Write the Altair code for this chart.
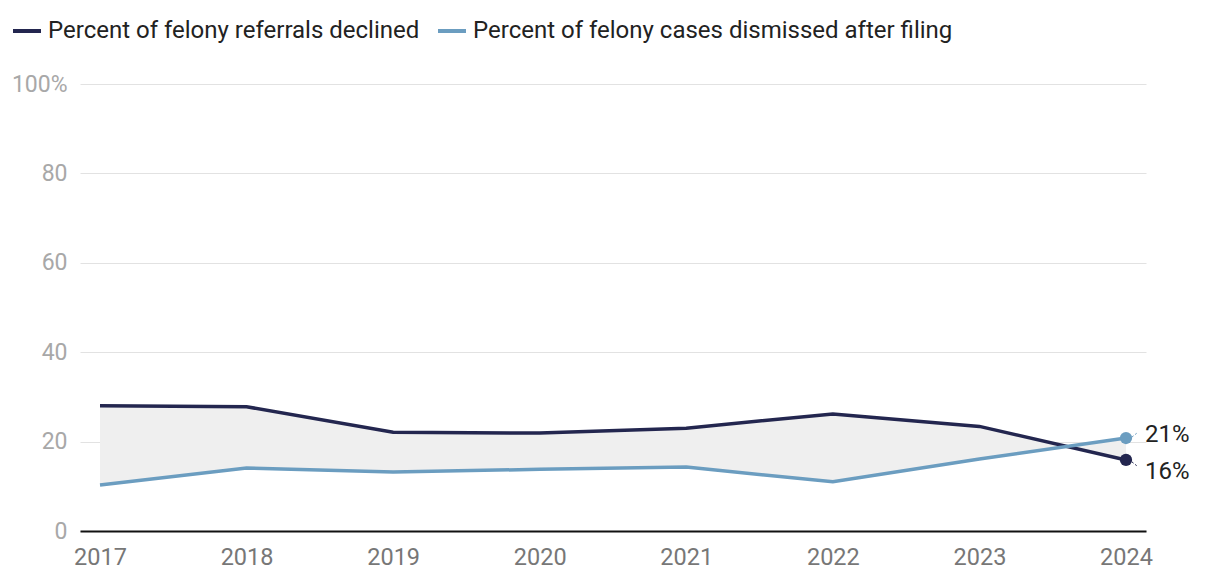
import altair as alt
import pandas as pd

years = [2017, 2018, 2019, 2020, 2021, 2022, 2023, 2024]
declined = [28.0, 27.8, 22.1, 21.9, 23.0, 26.2, 23.4, 15.9]
dismissed = [10.3, 14.1, 13.2, 13.8, 14.3, 11.0, 16.1, 20.8]
series_names = ["Percent of felony referrals declined",
                "Percent of felony cases dismissed after filing"]
series_colors = ["#23264f", "#6b9dc0"]
y_ticks = [0, 20, 40, 60, 80, 100]

FONT = "Roboto"

wide = pd.DataFrame({"year": years, "declined": declined, "dismissed": dismissed})
long = pd.concat([
    pd.DataFrame({"year": years, "value": declined, "series": series_names[0]}),
    pd.DataFrame({"year": years, "value": dismissed, "series": series_names[1]}),
])
last = long[long["year"] == years[-1]].copy()
last["label"] = last["value"].round().astype(int).astype(str) + "%"

xscale = alt.Scale(domain=[years[0], years[-1]], nice=False, padding=20)
yscale = alt.Scale(domain=[0, 100], nice=False)
color = alt.Color("series:N", scale=alt.Scale(domain=series_names, range=series_colors),
                  legend=alt.Legend(orient="none", legendX=-69, legendY=-69, direction="horizontal",
                                    title=None, symbolType="stroke", symbolSize=784,
                                    symbolStrokeWidth=4, labelFontSize=24, labelFont=FONT,
                                    labelColor="#222222", labelOffset=5, columnPadding=10,
                                    labelLimit=0))

x_enc = alt.X("year:Q", scale=xscale,
              axis=alt.Axis(title=None, values=years, format="d", grid=False, ticks=False,
                            domain=True, domainColor="#111111", domainWidth=2,
                            labelFontSize=23.5, labelFont=FONT, labelColor="#777777",
                            labelPadding=14, labelFlush=False))

area = alt.Chart(wide).mark_area(color="#efefef", opacity=1).encode(
    x=x_enc,
    y=alt.Y("declined:Q", scale=yscale,
            axis=alt.Axis(title=None, values=y_ticks, grid=True, gridColor="#e2e2e2",
                          ticks=False, domain=False, labelFontSize=23, labelFont=FONT,
                          labelColor="#a8a8a8", labelPadding=13,
                          labelExpr="datum.value == 100 ? '100%' : datum.label")),
    y2="dismissed:Q",
)

lines = alt.Chart(long).mark_line(strokeWidth=3.5).encode(
    x=alt.X("year:Q", scale=xscale),
    y=alt.Y("value:Q", scale=yscale),
    color=color,
)

points = alt.Chart(last).mark_circle(size=150, opacity=1).encode(
    x=alt.X("year:Q", scale=xscale),
    y=alt.Y("value:Q", scale=yscale),
    color=alt.Color("series:N", scale=alt.Scale(domain=series_names, range=series_colors), legend=None),
)

top_last = last[last["series"] == series_names[1]]
bot_last = last[last["series"] == series_names[0]]

top_text = alt.Chart(top_last).mark_text(align="left", baseline="middle", dx=19, dy=-3,
                                         fontSize=24, font=FONT, color="#222222").encode(
    x=alt.X("year:Q", scale=xscale), y=alt.Y("value:Q", scale=yscale), text="label:N")
bot_text = alt.Chart(bot_last).mark_text(align="left", baseline="middle", dx=19, dy=12,
                                         fontSize=24, font=FONT, color="#222222").encode(
    x=alt.X("year:Q", scale=xscale), y=alt.Y("value:Q", scale=yscale), text="label:N")

top_conn = alt.Chart(top_last).mark_rule(xOffset=6, x2Offset=11, yOffset=-1, y2Offset=-5,
                                         strokeWidth=1, strokeDash=[2, 2], color=series_colors[1]).encode(
    x=alt.X("year:Q", scale=xscale), x2="year:Q",
    y=alt.Y("value:Q", scale=yscale), y2="value:Q")
bot_conn = alt.Chart(bot_last).mark_rule(xOffset=6, x2Offset=11, yOffset=2, y2Offset=6,
                                         strokeWidth=1, strokeDash=[2, 2], color=series_colors[0]).encode(
    x=alt.X("year:Q", scale=xscale), x2="year:Q",
    y=alt.Y("value:Q", scale=yscale), y2="value:Q")

chart = alt.layer(area, lines, points, top_conn, bot_conn, top_text, bot_text).properties(
    width=1066, height=447,
    autosize=alt.AutoSizeParams(type="none"),
    padding={"left": 72, "top": 76, "right": 66, "bottom": 43},
).configure(font=FONT).configure_view(stroke=None, strokeWidth=0)

chart.save("out.html", embed_options={"renderer": "svg", "actions": False})
